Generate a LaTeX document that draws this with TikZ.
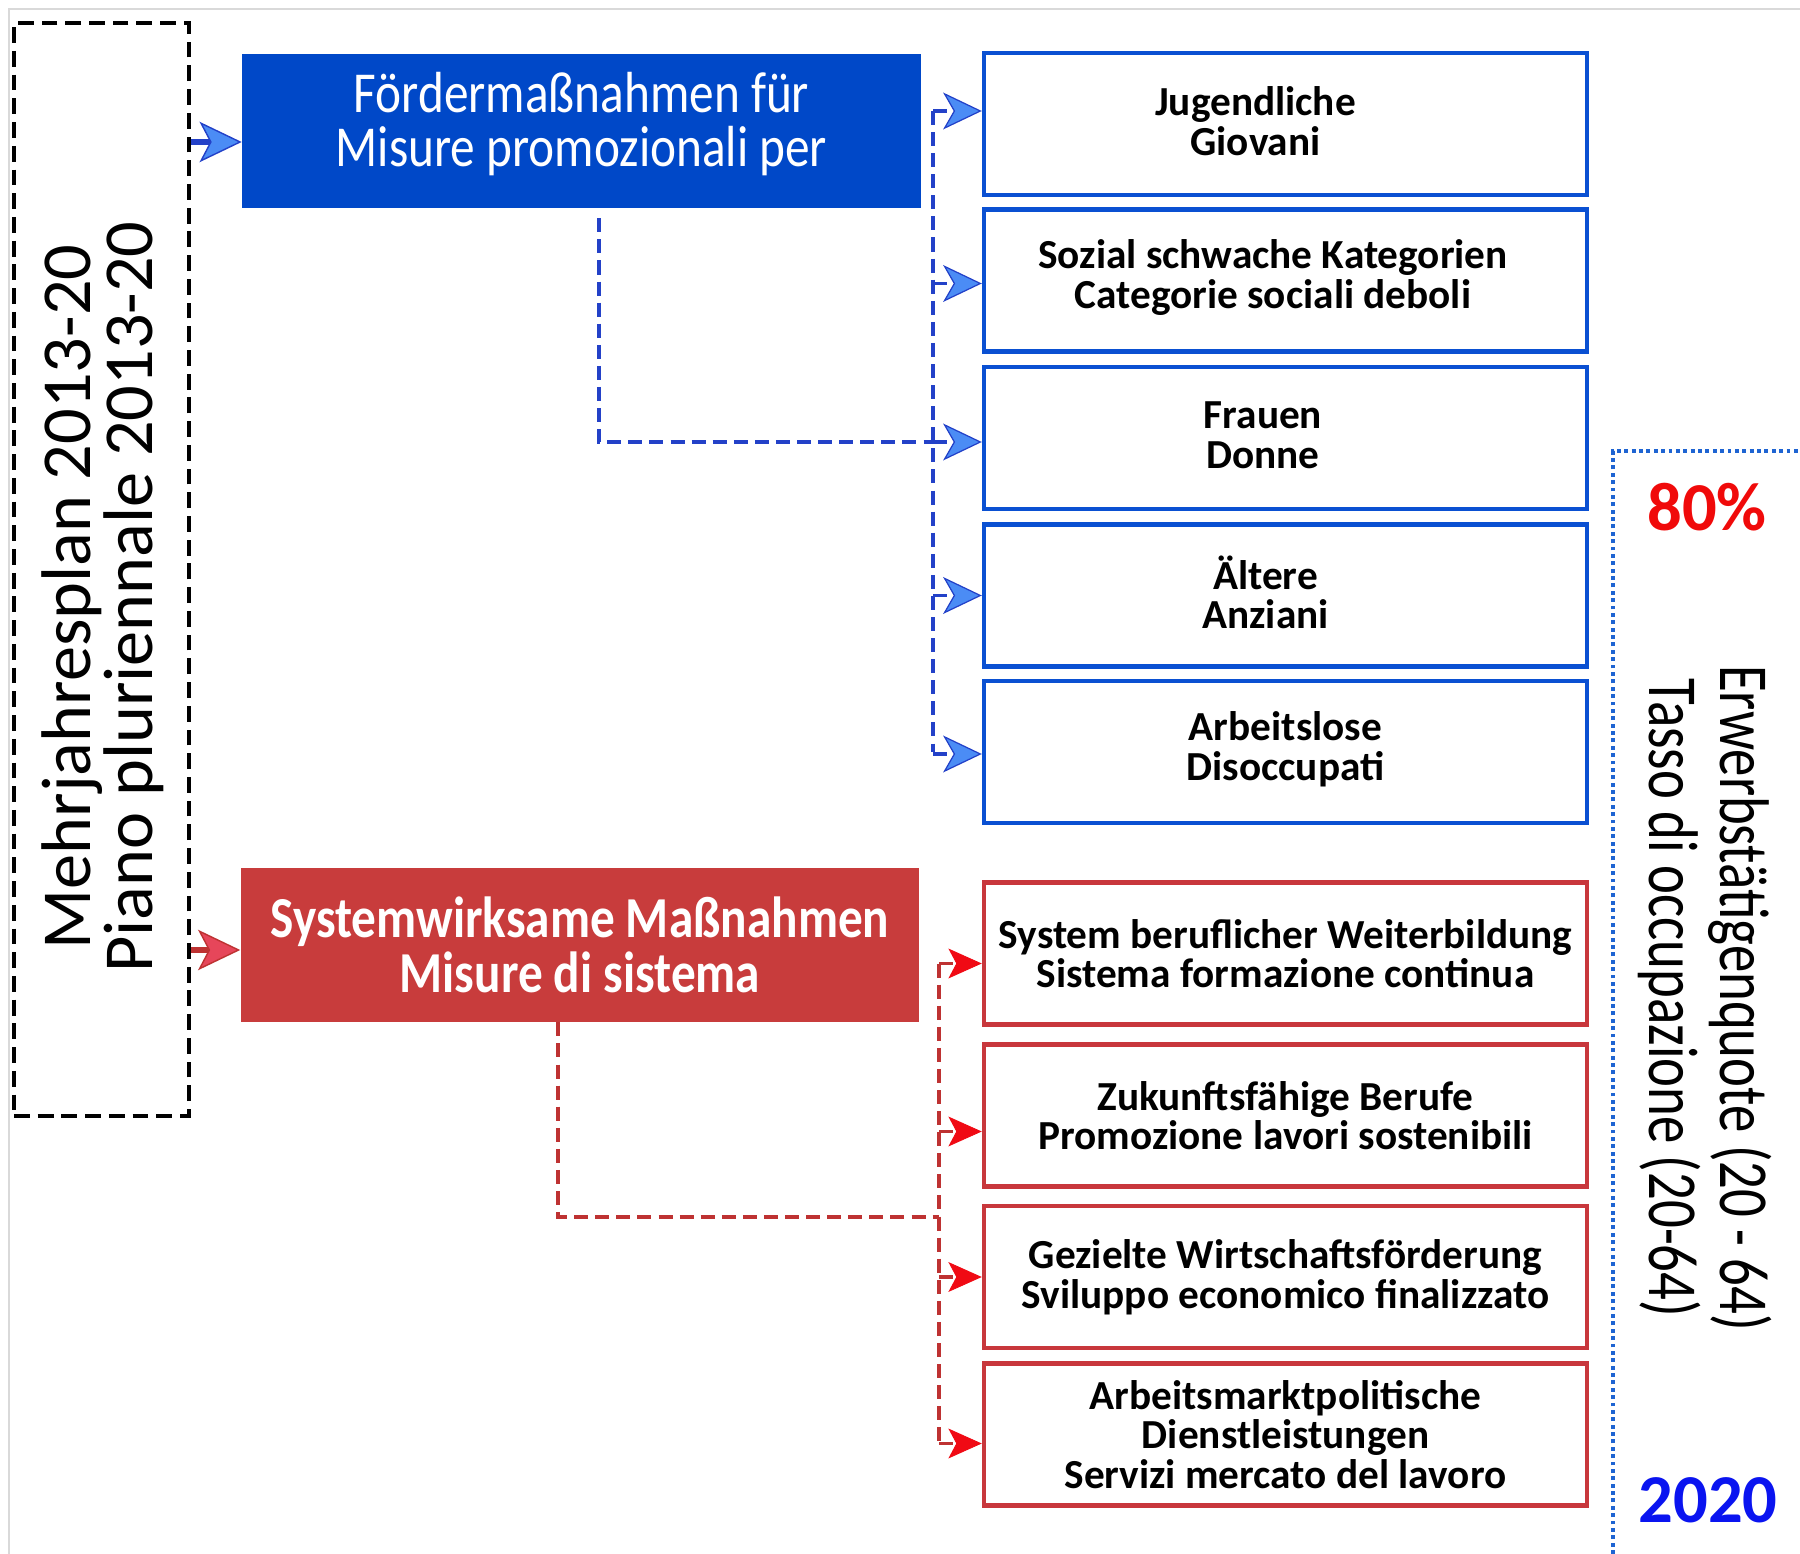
\documentclass[tikz,border=0pt]{standalone}
\usepackage{fontspec}
\setmainfont{Carlito}
\newfontfamily\condfont[FakeStretch=0.85]{Carlito}
\newfontfamily\narrowfont[FakeStretch=0.78]{Carlito}
\usetikzlibrary{arrows.meta,positioning}

\definecolor{hdrblau}{HTML}{0048C8}
\definecolor{hdrrot}{HTML}{C83C3C}
\definecolor{randblau}{HTML}{0A50D2}
\definecolor{randrot}{HTML}{C8373C}
\definecolor{strichblau}{HTML}{2341C8}
\definecolor{strichrot}{HTML}{BE3232}
\definecolor{spitzeblau}{HTML}{4B8CF5}
\definecolor{spitzerot}{HTML}{F00A14}
\definecolor{spitzerosa}{HTML}{E6465A}
\definecolor{punktfarbe}{HTML}{1E64D2}
\definecolor{quoterot}{HTML}{F00A0A}
\definecolor{jahrblau}{HTML}{0A14F0}

\tikzset{
  planbox/.style={draw=black,line width=2.3pt,dash pattern=on 9pt off 4.5pt,
    minimum width=3.5cm,minimum height=21.86cm,inner sep=0pt},
  kopf/.style={minimum width=13.58cm,minimum height=3.08cm,inner sep=0pt,
    text=white,align=center},
  zieltext/.style={align=center,font=\fontsize{23.5}{22.5}\selectfont\bfseries},
  ziel/.style={line width=2.6pt,fill=white,minimum width=12.06cm,minimum height=2.84cm,
    inner sep=0pt,zieltext},
  zielblau/.style={ziel,draw=randblau},
  zielrot/.style={ziel,draw=randrot},
  blaustrich/.style={strichblau,line width=2.1pt,dash pattern=on 8pt off 4pt},
  rotstrich/.style={strichrot,line width=2.1pt,dash pattern=on 8pt off 4pt},
  pfeilblau/.style={-{Stealth[length=22pt,width=21pt,inset=6pt,fill=spitzeblau,line width=0.7pt]}},
  pfeilrot/.style={-{Stealth[length=19pt,width=17pt,inset=4.5pt,fill=spitzerot,color=spitzerot,line width=0.5pt]}},
}

\begin{document}
\begin{tikzpicture}[x=0.02cm,y=-0.02cm]
  \useasboundingbox (0,0) rectangle (1800,1554);
  \draw[gray!30,line width=0.6pt] (9,1554) -- (9,9) -- (1800,9);

  % Mehrjahresplan
  \node[planbox] (plan) at (101.5,569.5) {};
  \node[rotate=90,align=center,font=\fontsize{40}{35}\selectfont] (plantxt) at (103,597)
    {Mehrjahresplan 2013-20\\Piano pluriennale 2013-20};

  % two groups of measures
  \node[kopf,fill=hdrblau] (foerder) at (581.5,131) {};
  \node[text=white,align=center,font=\condfont\fontsize{33}{31}\selectfont] (foerdertxt) at (581.5,124)
    {Fördermaßnahmen für\\Misure promozionali per};
  \node[kopf,fill=hdrrot,font=\condfont\bfseries\fontsize{33}{31}\selectfont] (system) at (580,945)
    {Systemwirksame Maßnahmen\\Misure di sistema};

  \draw[strichblau,line width=3pt,-{Stealth[length=24pt,width=23pt,inset=6pt,fill=spitzeblau,line width=0.8pt]}]
    ([yshift=-0.22cm]plan.east |- foerder.west) -- ([yshift=-0.22cm]foerder.west);
  \draw[strichrot,line width=3pt,-{Stealth[length=24pt,width=23pt,inset=6pt,fill=spitzerosa,line width=0.8pt]}]
    ([yshift=-0.1cm]plan.east |- system.west) -- ([yshift=-0.1cm]system.west);

  % target groups
  \foreach \nm/\y/\dx/\txt in {jung/124/-0.6/{Jugendliche\\Giovani},
      sozial/280.5/-0.25/{Sozial schwache Kategorien\\Categorie sociali deboli},
      frauen/438/-0.45/{Frauen\\Donne}, alt/595.5/-0.4/{Ältere\\Anziani},
      arblos/752/0/{Arbeitslose\\Disoccupati}}{
    \node[zielblau] (\nm) at (1285.5,\y) {};
    \node[zieltext] (\nm txt) at ([xshift=\dx cm,yshift=0.06cm]\nm.center) {\txt};
  }

  \foreach \nm/\y/\txt in {weiter/953.5/{System beruflicher Weiterbildung\\Sistema formazione continua},
      berufe/1115.5/{Zukunftsfähige Berufe\\Promozione lavori sostenibili},
      wirt/1277/{Gezielte Wirtschaftsförderung\\Sviluppo economico finalizzato},
      dienst/1434.5/{Arbeitsmarktpolitische\\Dienstleistungen\\Servizi mercato del lavoro}}
    \node[zielrot] (\nm) at (1285.5,\y) {\txt};

  % dashed connectors
  \coordinate (bbus) at (933,0);
  \coordinate (rbus) at (939,0);
  \coordinate (rjoin) at (939,1217);

  \draw[blaustrich] ([xshift=0.35cm,yshift=-0.2cm]foerder.south) |- ([yshift=-0.08cm]bbus |- frauen.west);
  \draw[blaustrich] ([yshift=0.26cm]bbus |- jung.west) -- (bbus |- arblos.west);
  \foreach \nm/\dy in {jung/0.26,sozial/-0.06,frauen/-0.08,alt/0,arblos/-0.04}
    \draw[blaustrich,pfeilblau] ([yshift=\dy cm]bbus |- \nm.west) -- ([yshift=\dy cm]\nm.west);

  \draw[rotstrich] ([xshift=-0.44cm]system.south) |- (rjoin);
  \draw[rotstrich] ([yshift=-0.2cm]rbus |- weiter.west) -- ([yshift=-0.18cm]rbus |- dienst.west);
  \foreach \nm/\dy in {weiter/-0.2,berufe/-0.32,wirt/0,dienst/-0.18}
    \draw[rotstrich,pfeilrot] ([yshift=\dy cm]rbus |- \nm.west) -- ([yshift=\dy cm]\nm.west);

  % target rate
  \draw[punktfarbe,line width=2.2pt,dash pattern=on 2.2pt off 2pt]
    (1613,1554) -- (1613,451) -- (1800,451);
  \node[text=quoterot,font=\bfseries\fontsize{39}{39}\selectfont] (quote) at (1707,507) {80\%};
  \node[rotate=-90,align=center,font=\narrowfont\fontsize{40}{40}\selectfont] (erwerb) at (1705,998)
    {Erwerbstätigenquote (20 - 64)\\Tasso di occupazione (20-64)};
  \node[text=jahrblau,font=\bfseries\fontsize{39}{39}\selectfont] (jahr) at (1708,1500) {2020};
\end{tikzpicture}
\end{document}
